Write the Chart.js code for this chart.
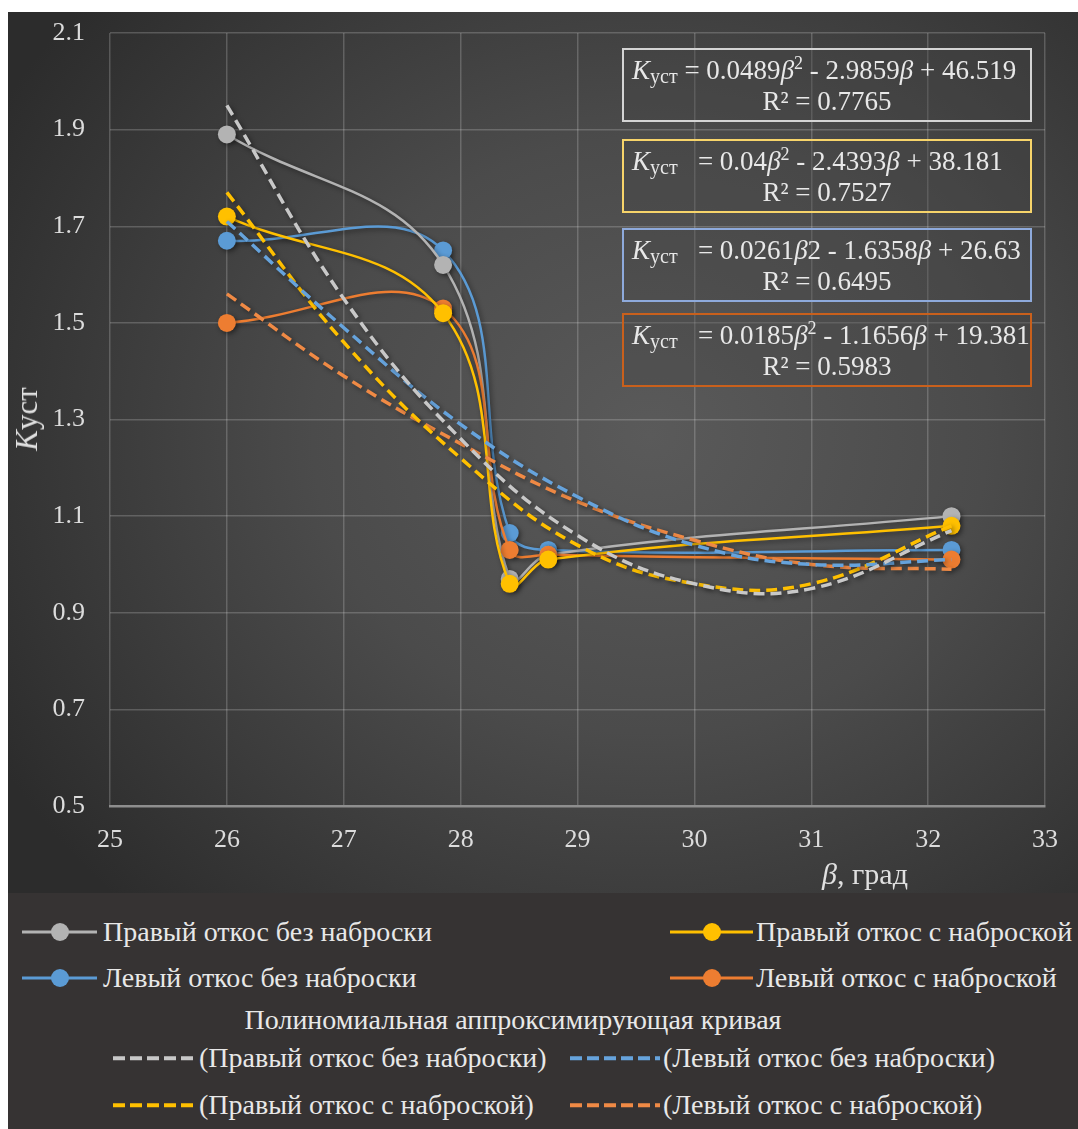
<!DOCTYPE html>
<html>
<head>
<meta charset="utf-8">
<script src="https://cdn.jsdelivr.net/npm/chart.js@4.4.1/dist/chart.umd.min.js"></script>
<style>
  body { margin: 0; background: #fff; font-family: "Liberation Serif", "DejaVu Serif", "Noto Serif", serif; }
  #wrap { position: absolute; left: 8px; top: 12px; width: 1070px; height: 1117px; }
  #plot { position: absolute; left: 0; top: 0; width: 1070px; height: 881px;
    background: radial-gradient(ellipse 70% 75% at 60% 48%, #5a5a5a 0%, #4b4b4b 45%, #2c2c2c 100%); }
  #chart { position: absolute; left: 0; top: 0; }
  .box { position: absolute; left: 614px; width: 410px; height: 74px; box-sizing: border-box;
    border: 2.5px solid; color: #e8e8e8; font-size: 27px; line-height: 31px; padding-top: 5px;
    background: rgba(70,70,70,0.35); }
  .box .l1 { padding-left: 8px; white-space: nowrap; }
  .box .l2 { text-align: center; }
  .box sub { font-size: 20px; vertical-align: -4px; line-height: 0; }
  .box sup { font-size: 18px; vertical-align: 10px; line-height: 0; }
  #ytitle { position: absolute; left: 19px; top: 407px; transform: translate(-50%, -50%) rotate(-90deg);
    color: #e0e0e0; font-size: 31px; white-space: nowrap; }
  #xtitle { position: absolute; left: 857px; top: 862px; transform: translate(-50%, -50%);
    color: #e0e0e0; font-size: 30px; white-space: nowrap; }
  #legend { position: absolute; left: 0; top: 881px; width: 1070px; height: 236px; background: #363333;
    color: #e8e8e8; font-size: 28px; }
  .lg { position: absolute; white-space: nowrap; transform: translateY(-50%); }
  .ln { position: absolute; height: 0; transform: translateY(-50%); }
  .dot { position: absolute; width: 18px; height: 18px; border-radius: 50%; transform: translate(-50%, -50%); }
</style>
</head>
<body>
<div id="wrap">
  <div id="plot">
    <canvas id="chart" width="1070" height="881"></canvas>
    <div id="boxes"></div>
    <div id="ytitle"><i>K</i>уст</div>
    <div id="xtitle"><i>β</i>, град</div>
  </div>
  <div id="legend"></div>
</div>
<script>
// measured points (β, град)
const beta = [26, 27.85, 28.42, 28.75, 32.2];
const rightNoRiprap = [1.89, 1.62, 0.97, 1.02, 1.10];
const rightRiprap = [1.72, 1.52, 0.96, 1.01, 1.08];
const leftNoRiprap = [1.67, 1.65, 1.065, 1.03, 1.03];
const leftRiprap = [1.50, 1.53, 1.03, 1.02, 1.01];

// polynomial trend curves
const trendBeta = [26, 27, 28, 29, 30, 31, 32.2];
const trendRightNo = [1.95, 1.55, 1.26, 1.06, 0.96, 0.95, 1.07];
const trendRightRip = [1.77, 1.46, 1.22, 1.04, 0.96, 0.96, 1.08];
const trendLeftNo = [1.71, 1.49, 1.29, 1.14, 1.04, 1.00, 1.01];
const trendLeftRip = [1.56, 1.39, 1.25, 1.13, 1.05, 1.00, 0.99];

// ticks
const xTicks = [25, 26, 27, 28, 29, 30, 31, 32, 33];
const yTicks = [0.5, 0.7, 0.9, 1.1, 1.3, 1.5, 1.7, 1.9, 2.1];

const seriesNames = ["Правый откос без наброски", "Правый откос с наброской", "Левый откос без наброски", "Левый откос с наброской"];
const legendHeader = "Полиномиальная аппроксимирующая кривая";

const equations = [
  ["<i>K</i><sub>уст</sub> = 0.0489<i>β</i><sup>2</sup> - 2.9859<i>β</i> + 46.519", "R² = 0.7765"],
  ["<i>K</i><sub>уст</sub>&nbsp;&nbsp; = 0.04<i>β</i><sup>2</sup> - 2.4393<i>β</i> + 38.181", "R² = 0.7527"],
  ["<i>K</i><sub>уст</sub>&nbsp;&nbsp; = 0.0261<i>β</i>2 - 1.6358<i>β</i> + 26.63", "R² = 0.6495"],
  ["<i>K</i><sub>уст</sub>&nbsp;&nbsp; = 0.0185<i>β</i><sup>2</sup> - 1.1656<i>β</i> + 19.381", "R² = 0.5983"]
];

const colors = { gray: "#b3b3b3", yellow: "#ffc000", blue: "#5b9bd5", orange: "#ed7d31" };
const trendColors = { gray: "#c8c8c8", yellow: "#ffc000", blue: "#66a3dc", orange: "#f08a45" };
const boxBorders = ["#d4d4d4", "#f7d46a", "#8eaadc", "#c9601c"];

const toXY = (xs, ys) => xs.map((x, i) => ({ x: x, y: ys[i] }));

function series(label, ys, color, order) {
  return {
    label: label, data: toXY(beta, ys), order: order,
    borderColor: color, backgroundColor: color, borderWidth: 2.5,
    pointRadius: 9, pointBackgroundColor: color, pointBorderWidth: 0,
    tension: 0.4, fill: false
  };
}

function trend(label, ys, color, order) {
  return {
    label: label, data: toXY(trendBeta, ys), order: order,
    borderColor: color, borderWidth: 3.5, borderDash: [11, 6],
    pointRadius: 0, tension: 0.4, fill: false
  };
}

const shadowPlugin = {
  id: "shadow",
  beforeDatasetDraw(chart) {
    const c = chart.ctx;
    c.save();
    c.shadowColor = "rgba(0,0,0,0.45)";
    c.shadowBlur = 5;
    c.shadowOffsetX = 2;
    c.shadowOffsetY = 2;
  },
  afterDatasetDraw(chart) {
    chart.ctx.restore();
  }
};

const tickFont = { family: "'Liberation Serif', 'DejaVu Serif', 'Noto Serif', serif", size: 26 };
const gridColor = "rgba(230,230,230,0.22)";

new Chart(document.getElementById("chart").getContext("2d"), {
  type: "line",
  data: {
    datasets: [
      trend("(" + seriesNames[0] + ")", trendRightNo, trendColors.gray, 1),
      trend("(" + seriesNames[2] + ")", trendLeftNo, trendColors.blue, 2),
      trend("(" + seriesNames[1] + ")", trendRightRip, trendColors.yellow, 3),
      trend("(" + seriesNames[3] + ")", trendLeftRip, trendColors.orange, 4),
      series(seriesNames[1], rightRiprap, colors.yellow, 5),
      series(seriesNames[3], leftRiprap, colors.orange, 6),
      series(seriesNames[0], rightNoRiprap, colors.gray, 7),
      series(seriesNames[2], leftNoRiprap, colors.blue, 8)
    ]
  },
  options: {
    responsive: false,
    animation: false,
    devicePixelRatio: 1,
    layout: { padding: { top: 21, right: 33, left: 0, bottom: 0 } },
    plugins: { legend: { display: false }, tooltip: { enabled: false } },
    scales: {
      x: {
        type: "linear", min: 25, max: 33,
        afterBuildTicks: s => { s.ticks = xTicks.map(v => ({ value: v })); },
        afterFit: s => { s.height = 87; },
        grid: { color: gridColor, lineWidth: 1.5, drawTicks: true, tickLength: 19, tickColor: "rgba(0,0,0,0)" },
        border: { display: true, color: "#8e8e8e", width: 2.5 },
        ticks: { color: "#dcdcdc", font: tickFont, padding: 0 }
      },
      y: {
        type: "linear", min: 0.5, max: 2.1,
        afterBuildTicks: s => { s.ticks = yTicks.map(v => ({ value: v })); },
        afterFit: s => { s.width = 102; },
        grid: { color: gridColor, lineWidth: 1.5, drawTicks: true, tickLength: 25, tickColor: "rgba(0,0,0,0)" },
        border: { display: false },
        ticks: { color: "#dcdcdc", font: tickFont, padding: 0, callback: v => v.toFixed(1) }
      }
    }
  },
  plugins: [shadowPlugin]
});

// equation boxes
const boxTops = [36, 127, 216, 301];
const boxesEl = document.getElementById("boxes");
equations.forEach((eq, i) => {
  const b = document.createElement("div");
  b.className = "box";
  b.style.top = boxTops[i] + "px";
  b.style.borderColor = boxBorders[i];
  b.innerHTML = '<div class="l1">' + eq[0] + '</div><div class="l2">' + eq[1] + '</div>';
  boxesEl.appendChild(b);
});

// legend
const legendEl = document.getElementById("legend");
function addText(txt, x, y, center) {
  const t = document.createElement("div");
  t.className = "lg";
  t.textContent = txt;
  t.style.top = y + "px";
  t.style.left = x + "px";
  if (center) t.style.transform = "translate(-50%,-50%)";
  legendEl.appendChild(t);
}
function addMarker(color, x1, x2, y) {
  const l = document.createElement("div");
  l.className = "ln";
  l.style.left = x1 + "px";
  l.style.width = (x2 - x1) + "px";
  l.style.top = y + "px";
  l.style.borderTop = "3px solid " + color;
  legendEl.appendChild(l);
  const d = document.createElement("div");
  d.className = "dot";
  d.style.left = ((x1 + x2) / 2) + "px";
  d.style.top = y + "px";
  d.style.background = color;
  legendEl.appendChild(d);
}
function addDash(color, x1, x2, y) {
  const l = document.createElement("div");
  l.className = "ln";
  l.style.left = x1 + "px";
  l.style.width = (x2 - x1) + "px";
  l.style.top = y + "px";
  l.style.height = "3.5px";
  l.style.background = "repeating-linear-gradient(90deg," + color + " 0 12px, transparent 12px 17px)";
  legendEl.appendChild(l);
}

addMarker(colors.gray, 14, 89, 39);   addText(seriesNames[0], 95, 39);
addMarker(colors.yellow, 662, 745, 39); addText(seriesNames[1], 748, 39);
addMarker(colors.blue, 14, 89, 85);   addText(seriesNames[2], 95, 85);
addMarker(colors.orange, 662, 745, 85); addText(seriesNames[3], 748, 85);
addText(legendHeader, 505, 127, true);
addDash(trendColors.gray, 105, 188, 165);   addText("(" + seriesNames[0] + ")", 191, 165);
addDash(trendColors.blue, 562, 652, 165);   addText("(" + seriesNames[2] + ")", 655, 165);
addDash(trendColors.yellow, 105, 188, 212); addText("(" + seriesNames[1] + ")", 191, 212);
addDash(trendColors.orange, 562, 652, 212); addText("(" + seriesNames[3] + ")", 655, 212);
</script>
</body>
</html>
